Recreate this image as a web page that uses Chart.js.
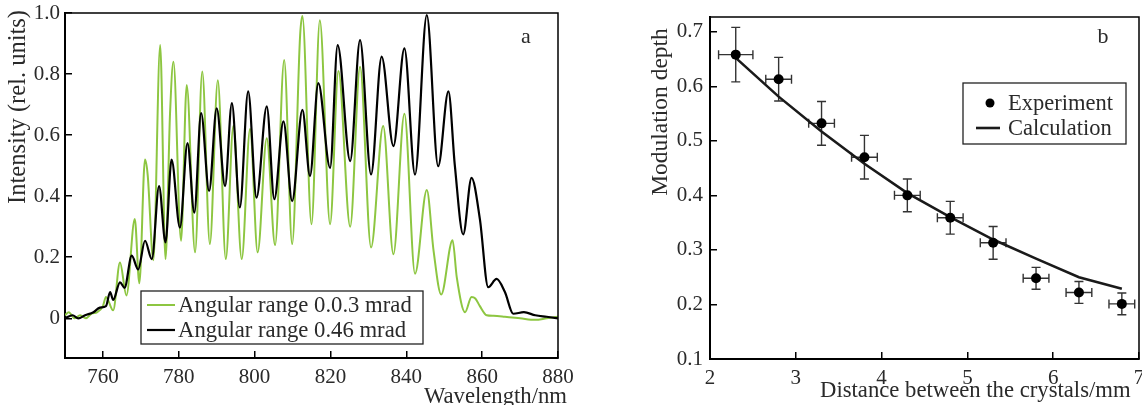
<!DOCTYPE html>
<html><head><meta charset="utf-8">
<script src="https://cdn.jsdelivr.net/npm/chart.js@4.4.1/dist/chart.umd.min.js"></script>
<style>
html,body{margin:0;padding:0;background:#fff;width:1142px;height:405px;overflow:hidden}
#wrapA{position:absolute;left:0;top:0;width:640px;height:405px}
#wrapB{position:absolute;left:640px;top:0;width:502px;height:405px}
</style></head><body>
<div id="wrapA"><canvas id="chartA" width="640" height="405"></canvas></div>
<div id="wrapB"><canvas id="chartB" width="502" height="405"></canvas></div>
<script>
// ---------- Panel a: spectra ----------
const wavelengthGreen = [750,751,752.5,754,755.5,757,758.5,760,760.8,762.7,764.5,766.2,768.4,769.6,771.1,771.8,773.3,775.1,776.5,777.7,778.6,780.6,782.1,784.3,786.2,788.2,790.3,792.4,794.4,796.6,798.8,800.8,803.2,805.4,807.8,809.9,812.0,812.6,815.0,817.2,819.9,822.1,825.2,827.8,830.7,833.9,836.6,839.5,842.3,845.4,847.2,849.2,852.2,853.3,855.5,857.2,858.2,859.4,861.2,863,866,870,874,877,880];
const intensityGreen = [0.01,0.02,0.0,0.01,0.0,0.015,0.02,0.04,0.07,0.026,0.183,0.075,0.325,0.115,0.52,0.47,0.19,0.895,0.194,0.672,0.84,0.254,0.764,0.216,0.808,0.243,0.78,0.194,0.63,0.194,0.62,0.216,0.59,0.24,0.846,0.243,0.927,0.99,0.308,0.976,0.308,0.81,0.30,0.824,0.232,0.63,0.21,0.67,0.146,0.42,0.22,0.078,0.256,0.135,0.02,0.07,0.065,0.04,0.01,0.008,0.005,0.0,-0.005,0.0,0.005];
const wavelengthBlack = [750,752,753.5,755.3,757.5,759.2,760.8,761.9,762.7,764.5,765.7,767.6,769.3,771.1,772.9,774.8,776.5,778.1,780.3,782.3,784.1,785.9,788.0,790.0,792.2,794.0,796.1,798.3,800.5,803.2,805.2,807.6,809.9,812.6,814.6,816.8,819.9,821.9,825.2,827.8,830.7,833.5,836.6,839.5,842.3,845.4,848.4,851.1,852.8,855.0,857.2,859.4,861.6,863.8,866.0,868.2,871,874,877,880];
const intensityBlack = [0.0,0.01,0.0,0.01,0.02,0.035,0.04,0.086,0.06,0.118,0.10,0.205,0.16,0.254,0.194,0.433,0.249,0.52,0.297,0.574,0.346,0.672,0.417,0.688,0.433,0.705,0.363,0.743,0.395,0.694,0.39,0.645,0.384,0.683,0.466,0.77,0.493,0.895,0.515,0.911,0.471,0.857,0.564,0.884,0.471,0.993,0.498,0.743,0.50,0.275,0.46,0.325,0.102,0.129,0.086,0.015,0.02,0.01,0.005,0.0];
const seriesLabelsA = ["Angular range 0.0.3 mrad", "Angular range 0.46 mrad"];
const wavelengthTicks = [760,780,800,820,840,860,880];
const intensityTicks = [0,0.2,0.4,0.6,0.8,1.0];

// ---------- Panel b: modulation depth ----------
const distances = [2.3,2.8,3.3,3.8,4.3,4.8,5.3,5.8,6.3,6.8];
const depthExperiment = [0.658,0.613,0.532,0.470,0.400,0.359,0.313,0.248,0.222,0.201];
const depthError = [0.05,0.04,0.04,0.04,0.03,0.03,0.03,0.02,0.02,0.02];
const distanceError = [0.2,0.15,0.15,0.15,0.15,0.15,0.15,0.15,0.15,0.15];
const depthCalculation = [0.652,0.581,0.517,0.458,0.404,0.360,0.319,0.284,0.250,0.229];
const seriesLabelsB = ["Experiment", "Calculation"];
const distanceTicks = [2,3,4,5,6,7];
const depthTicks = [0.1,0.2,0.3,0.4,0.5,0.6,0.7];

const SERIF = '"Liberation Serif", "DejaVu Serif", serif';
const TXT = '#2a2a2a';
const GREEN = '#8dc641';

function zip(xs, ys){ return xs.map((x,i)=>({x:x, y:ys[i]})); }

function axisCommon(ticksArr, fmt, pad, sizeProp, size){
  return {
    type:'linear',
    afterBuildTicks: s => { s.ticks = ticksArr.map(v=>({value:v})); },
    afterFit: s => {
      s[sizeProp] = size;
      s.paddingTop = 0; s.paddingBottom = 0; s.paddingLeft = 0; s.paddingRight = 0;
    },
    ticks:{padding:pad, color:TXT, font:{family:SERIF, size:21}, maxRotation:0, autoSkip:false,
           callback: v => fmt(v)},
    grid:{drawOnChartArea:false, drawTicks:true, tickLength:-7, color:'#000', lineWidth:1.5},
    border:{display:true, color:'#000', width:2}
  };
}

// decoration plugin: frame, panel letter, axis titles, legend
function decoPlugin(cfg){
  return {
    id:'deco',
    afterDraw(chart){
      const ctx = chart.ctx, a = chart.chartArea;
      ctx.save();
      ctx.strokeStyle = '#000'; ctx.lineWidth = 1.5;
      ctx.beginPath();
      ctx.moveTo(a.left, a.top); ctx.lineTo(a.right, a.top); ctx.lineTo(a.right, a.bottom);
      ctx.stroke();
      ctx.fillStyle = TXT;
      ctx.font = '22px ' + SERIF; ctx.textAlign = 'center'; ctx.textBaseline = 'alphabetic';
      ctx.fillText(cfg.letter.text, cfg.letter.x, cfg.letter.y);
      ctx.font = '22.7px ' + SERIF; ctx.textAlign = cfg.xTitle.align;
      ctx.fillText(cfg.xTitle.text, cfg.xTitle.x, cfg.xTitle.y);
      ctx.save();
      ctx.translate(cfg.yTitle.x, cfg.yTitle.y); ctx.rotate(-Math.PI/2);
      ctx.font = cfg.yTitle.size + 'px ' + SERIF; ctx.textAlign = 'center'; ctx.textBaseline = 'middle';
      ctx.fillText(cfg.yTitle.text, 0, 0);
      ctx.restore();
      const L = cfg.legend;
      ctx.fillStyle = '#fff'; ctx.fillRect(L.x, L.y, L.w, L.h);
      ctx.strokeStyle = '#222'; ctx.lineWidth = 1.3; ctx.strokeRect(L.x, L.y, L.w, L.h);
      ctx.font = L.font + 'px ' + SERIF; ctx.textAlign = 'left'; ctx.textBaseline = 'alphabetic';
      L.items.forEach((it) => {
        const ds = chart.data.datasets[it.ds];
        if (it.kind === 'line') {
          ctx.strokeStyle = ds.borderColor; ctx.lineWidth = ds.borderWidth;
          ctx.beginPath(); ctx.moveTo(it.sx0, it.sy); ctx.lineTo(it.sx1, it.sy); ctx.stroke();
        } else {
          ctx.fillStyle = ds.backgroundColor;
          ctx.beginPath(); ctx.arc(it.sx0, it.sy, 4.5, 0, Math.PI*2); ctx.fill();
        }
        ctx.fillStyle = TXT;
        ctx.fillText(ds.label, it.tx, it.ty);
      });
      ctx.restore();
    }
  };
}

// ---------- Chart A ----------
const xA = axisCommon(wavelengthTicks, v => String(v), 14, 'height', 47);
xA.min = 750; xA.max = 880;
const yA = axisCommon(intensityTicks, v => v === 0 ? '0' : v.toFixed(1), 12, 'width', 65);
yA.min = -0.13; yA.max = 1.0;

new Chart(document.getElementById('chartA'), {
  type:'line',
  data:{datasets:[
    {label:seriesLabelsA[1], data:zip(wavelengthBlack, intensityBlack), borderColor:'#000', borderWidth:2.2,
     pointRadius:0, cubicInterpolationMode:'monotone', fill:false},
    {label:seriesLabelsA[0], data:zip(wavelengthGreen, intensityGreen), borderColor:GREEN, borderWidth:2,
     pointRadius:0, cubicInterpolationMode:'monotone', fill:false}
  ]},
  options:{
    responsive:false, animation:false, devicePixelRatio:1,
    layout:{autoPadding:false, padding:{left:0, top:13, right:82, bottom:0}},
    plugins:{legend:{display:false}, tooltip:{enabled:false}},
    scales:{x:xA, y:yA}
  },
  plugins:[decoPlugin({
    letter:{text:'a', x:526, y:43},
    xTitle:{text:'Wavelength/nm', x:567, y:403, align:'right'},
    yTitle:{text:'Intensity (rel. units)', x:19, y:107, size:24.5},
    legend:{x:141, y:291, w:282, h:53, font:22.7, items:[
      {ds:1, kind:'line', sx0:147, sx1:175, sy:305, tx:178, ty:312},
      {ds:0, kind:'line', sx0:147, sx1:175, sy:330, tx:178, ty:337}
    ]}
  })]
});

// ---------- Chart B ----------
const xB = axisCommon(distanceTicks, v => String(v), 14, 'height', 46);
xB.min = 2; xB.max = 7;
const yB = axisCommon(depthTicks, v => v.toFixed(1), 14, 'width', 70);
yB.min = 0.1; yB.max = 0.727;

const errorBars = {
  id:'errorBars',
  beforeDatasetsDraw(chart){
    const ctx = chart.ctx, x = chart.scales.x, y = chart.scales.y;
    ctx.save(); ctx.strokeStyle = '#333'; ctx.lineWidth = 1.4;
    distances.forEach((d, i) => {
      const v = depthExperiment[i];
      const px = x.getPixelForValue(d), py = y.getPixelForValue(v);
      const yt = y.getPixelForValue(v + depthError[i]), yb = y.getPixelForValue(v - depthError[i]);
      const xl = x.getPixelForValue(d - distanceError[i]), xr = x.getPixelForValue(d + distanceError[i]);
      const c = 4.5;
      ctx.beginPath();
      ctx.moveTo(px, yt); ctx.lineTo(px, yb);
      ctx.moveTo(px - c, yt); ctx.lineTo(px + c, yt);
      ctx.moveTo(px - c, yb); ctx.lineTo(px + c, yb);
      ctx.moveTo(xl, py); ctx.lineTo(xr, py);
      ctx.moveTo(xl, py - c); ctx.lineTo(xl, py + c);
      ctx.moveTo(xr, py - c); ctx.lineTo(xr, py + c);
      ctx.stroke();
    });
    ctx.restore();
  }
};

new Chart(document.getElementById('chartB'), {
  type:'line',
  data:{datasets:[
    {label:seriesLabelsB[0], data:zip(distances, depthExperiment), showLine:false, pointRadius:5,
     pointBackgroundColor:'#000', backgroundColor:'#000', borderColor:'#000', pointBorderWidth:0},
    {label:seriesLabelsB[1], data:zip(distances, depthCalculation), borderColor:'#1a1a1a', borderWidth:2.6,
     pointRadius:0, tension:0, fill:false}
  ]},
  options:{
    responsive:false, animation:false, devicePixelRatio:1,
    layout:{autoPadding:false, padding:{left:0, top:17, right:3, bottom:0}},
    plugins:{legend:{display:false}, tooltip:{enabled:false}},
    scales:{x:xB, y:yB}
  },
  plugins:[errorBars, decoPlugin({
    letter:{text:'b', x:463, y:43},
    xTitle:{text:'Distance between the crystals/mm', x:180, y:397, align:'left'},
    yTitle:{text:'Modulation depth', x:21, y:112, size:23.5},
    legend:{x:323, y:83, w:163, h:61, font:22.5, items:[
      {ds:0, kind:'dot', sx0:350, sy:103, tx:368, ty:110},
      {ds:1, kind:'line', sx0:336, sx1:360, sy:128, tx:368, ty:135}
    ]}
  })]
});
</script></body></html>
